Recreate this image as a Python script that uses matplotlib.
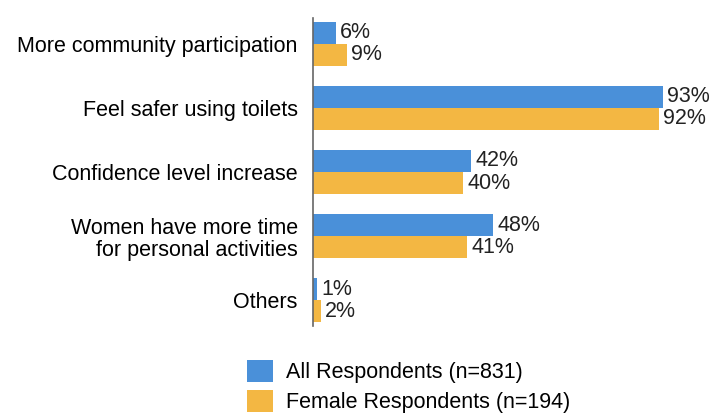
import matplotlib
matplotlib.use('Agg')
import matplotlib.pyplot as plt
import numpy as np

plt.rcParams['font.family'] = ['Liberation Sans', 'DejaVu Sans']

categories = ['More community participation', 'Feel safer using toilets',
              'Confidence level increase',
              'Women have more time\nfor personal activities', 'Others']
all_resp = [6, 93, 42, 48, 1]
female_resp = [9, 92, 40, 41, 2]
series_labels = ['All Respondents (n=831)', 'Female Respondents (n=194)']

blue = '#4a90d9'
orange = '#f3b743'

fig = plt.figure(figsize=(7.13, 4.15), dpi=100)
ax = fig.add_axes([313 / 713, 1 - 326 / 415, 376 / 713, 308 / 415])

y = np.arange(len(categories))
h = 0.345
b1 = ax.barh(y - h / 2, all_resp, height=h, color=blue, label=series_labels[0])
b2 = ax.barh(y + h / 2, female_resp, height=h, color=orange, label=series_labels[1])

for bars, vals in ((b1, all_resp), (b2, female_resp)):
    for bar, v in zip(bars, vals):
        ax.text(bar.get_width() + 1.2, bar.get_y() + bar.get_height() / 2,
                f'{v}%', va='center', ha='left', fontsize=15.5, color='#222222')

ax.set_xlim(0, 100)
ax.set_ylim(len(categories) - 0.6, -0.4)
ax.set_yticks(y)
ax.set_yticklabels(categories, fontsize=15.5, ha='right', multialignment='right',
                   linespacing=1.1)
ax.tick_params(axis='y', length=0, pad=11)
ax.set_xticks([])
for s in ('top', 'right', 'bottom'):
    ax.spines[s].set_visible(False)
ax.spines['left'].set_color('#666666')
ax.spines['left'].set_linewidth(1.2)

fig.legend(handles=[b1, b2], labels=series_labels, loc='upper left',
           bbox_to_anchor=(247 / 713, 1 - 360 / 415), frameon=False,
           fontsize=15.5, handlelength=1.2, handleheight=1.2,
           handletextpad=0.6, labelspacing=0.3, borderaxespad=0,
           borderpad=0)

fig.savefig('out.png', dpi=100)
